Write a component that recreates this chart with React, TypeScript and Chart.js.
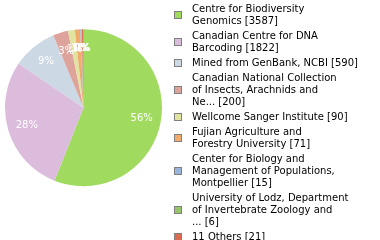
import React, { useEffect, useRef } from "react";
import { Chart, registerables } from "chart.js";

Chart.register(...registerables);

const categories = [
  "Centre for Biodiversity\nGenomics",
  "Canadian Centre for DNA\nBarcoding",
  "Mined from GenBank, NCBI",
  "Canadian National Collection\nof Insects, Arachnids and\nNe...",
  "Wellcome Sanger Institute",
  "Fujian Agriculture and\nForestry University",
  "Center for Biology and\nManagement of Populations,\nMontpellier",
  "University of Lodz, Department\nof Invertebrate Zoology and\n...",
  "11 Others",
];
const counts = [3587, 1822, 590, 200, 90, 71, 15, 6, 21];
const colors = [
  "#a0da5e",
  "#dcbcdc",
  "#ccd8e4",
  "#dea49c",
  "#e0e4a0",
  "#f0aa6c",
  "#98b4dc",
  "#98c46c",
  "#dc6c50",
];

const pctLabels = {
  id: "pctLabels",
  afterDatasetsDraw(chart: any) {
    const ctx = chart.ctx;
    const meta = chart.getDatasetMeta(0);
    const data = chart.data.datasets[0].data as number[];
    const total = data.reduce((a, b) => a + b, 0);
    ctx.save();
    ctx.fillStyle = "#ffffff";
    ctx.font = "10px 'DejaVu Sans'";
    ctx.textAlign = "center";
    ctx.textBaseline = "middle";
    meta.data.forEach((arc: any, i: number) => {
      const p = arc.getProps(["x", "y", "startAngle", "endAngle", "outerRadius"], true);
      const mid = (p.startAngle + p.endAngle) / 2;
      const r = p.outerRadius * 0.755;
      const pct = Math.round((data[i] / total) * 100);
      ctx.fillText(pct + "%", p.x + Math.cos(mid) * r, p.y + Math.sin(mid) * r);
    });
    ctx.restore();
  },
};

export default function App() {
  const ref = useRef<HTMLCanvasElement | null>(null);
  useEffect(() => {
    if (!ref.current) return;
    const chart = new Chart(ref.current, {
      type: "pie",
      data: {
        labels: categories,
        datasets: [
          {
            data: counts,
            backgroundColor: colors,
            borderWidth: 0,
          },
        ],
      },
      options: {
        animation: false,
        responsive: false,
        layout: { padding: { left: 5, right: 218, top: 29.2, bottom: 53.8 } },
        plugins: { legend: { display: false }, tooltip: { enabled: false } },
      },
      plugins: [pctLabels],
    });
    return () => chart.destroy();
  }, []);

  return (
    <div style={{ position: "absolute", left: 0, top: 0, width: 380, height: 240, overflow: "hidden", background: "#fff" }}>
      <canvas ref={ref} width={380} height={240} style={{ position: "absolute", left: 0, top: 0 }} />
      <div
        style={{
          position: "absolute",
          left: 174,
          top: 3.3,
          fontFamily: "'DejaVu Sans'",
          fontSize: 10,
          lineHeight: "12px",
          color: "#000",
        }}
      >
        {categories.map((c, i) => (
          <div key={i} style={{ display: "flex", alignItems: "center", marginBottom: 3 }}>
            <div
              style={{
                width: 6,
                height: 6,
                border: "1px solid #808080",
                background: colors[i],
                flex: "none",
              }}
            />
            <div style={{ marginLeft: 10, whiteSpace: "pre" }}>{c + " [" + counts[i] + "]"}</div>
          </div>
        ))}
      </div>
    </div>
  );
}
